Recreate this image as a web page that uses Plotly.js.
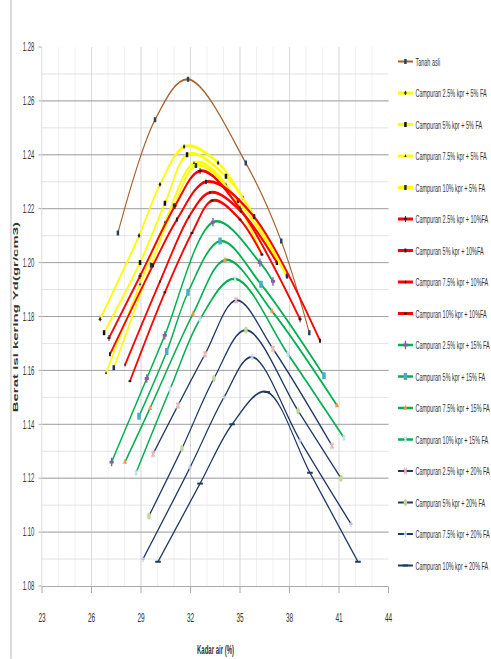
<!DOCTYPE html>
<html>
<head>
<meta charset="utf-8">
<script src="https://cdn.plot.ly/plotly-3.0.1.min.js"></script>
<style>
html,body{margin:0;padding:0;background:#fff;overflow:hidden;}
#chart{width:982px;height:659px;transform:scaleX(0.5);transform-origin:0 0;}
</style>
</head>
<body>
<div id="chart"></div>
<script>
// ---- data (Kadar air %, Berat isi kering gr/cm3) ----
const seriesNames = [
  "Tanah asli",
  "Campuran 2.5% kpr + 5% FA",
  "Campuran 5% kpr + 5% FA",
  "Campuran 7.5% kpr + 5% FA",
  "Campuran 10% kpr + 5% FA",
  "Campuran 2.5% kpr + 10%FA",
  "Campuran 5% kpr + 10%FA",
  "Campuran 7.5% kpr + 10%FA",
  "Campuran 10% kpr + 10%FA",
  "Campuran 2.5% kpr + 15% FA",
  "Campuran 5% kpr + 15% FA",
  "Campuran 7.5% kpr + 15% FA",
  "Campuran 10% kpr + 15% FA",
  "Campuran 2.5% kpr + 20% FA",
  "Campuran 5% kpr + 20% FA",
  "Campuran 7.5% kpr + 20% FA",
  "Campuran 10% kpr + 20% FA"
];

const x_tanah = [27.6, 29.85, 31.85, 35.35, 37.5, 39.2];
const y_tanah = [1.211, 1.253, 1.268, 1.237, 1.208, 1.174];

const x_k25_fa5 = [26.52, 28.88, 30.15, 31.61, 33.67, 35.18, 37.85];
const y_k25_fa5 = [1.179, 1.210, 1.229, 1.243, 1.237, 1.224, 1.195];
const x_k5_fa5 = [26.76, 28.94, 30.45, 31.79, 34.15, 35.85, 37.24];
const y_k5_fa5 = [1.174, 1.200, 1.222, 1.240, 1.232, 1.217, 1.200];
const x_k75_fa5 = [26.88, 28.94, 30.45, 32.21, 34.15, 36.33];
const y_k75_fa5 = [1.159, 1.192, 1.215, 1.237, 1.229, 1.203];
const x_k10_fa5 = [27.35, 29.61, 31.0, 32.33, 34.88, 37.85];
const y_k10_fa5 = [1.161, 1.199, 1.221, 1.236, 1.223, 1.195];

const x_k25_fa10 = [27.06, 28.94, 31.06, 32.58, 35.0, 38.64];
const y_k25_fa10 = [1.172, 1.195, 1.221, 1.234, 1.220, 1.179];
const x_k5_fa10 = [27.12, 29.73, 31.18, 32.94, 35.85, 39.85];
const y_k5_fa10 = [1.166, 1.199, 1.216, 1.230, 1.217, 1.171];
const x_k75_fa10 = [28.03, 30.15, 31.91, 33.18, 35.06, 37.24];
const y_k75_fa10 = [1.162, 1.193, 1.217, 1.226, 1.219, 1.200];
const x_k10_fa10 = [28.33, 30.45, 32.09, 33.30, 35.0, 36.33];
const y_k10_fa10 = [1.156, 1.189, 1.211, 1.223, 1.216, 1.203];

const x_k25_fa15 = [27.22, 29.35, 30.44, 33.36, 36.21, 37.0];
const y_k25_fa15 = [1.126, 1.157, 1.173, 1.215, 1.200, 1.193];
const x_k5_fa15 = [28.88, 30.56, 31.85, 33.79, 36.27, 40.09];
const y_k5_fa15 = [1.143, 1.167, 1.189, 1.208, 1.192, 1.158];
const x_k75_fa15 = [28.03, 29.55, 32.15, 34.09, 36.94, 40.88];
const y_k75_fa15 = [1.126, 1.146, 1.181, 1.201, 1.182, 1.147];
const x_k10_fa15 = [28.70, 30.76, 32.58, 34.70, 37.91, 41.30];
const y_k10_fa15 = [1.122, 1.153, 1.179, 1.194, 1.166, 1.135];

const x_k25_fa20 = [29.73, 31.24, 32.88, 34.76, 37.0, 40.58];
const y_k25_fa20 = [1.129, 1.147, 1.166, 1.186, 1.168, 1.132];
const x_k5_fa20 = [29.48, 31.48, 33.42, 35.36, 38.52, 41.12];
const y_k5_fa20 = [1.106, 1.131, 1.157, 1.175, 1.145, 1.120];
const x_k75_fa20 = [29.12, 31.97, 34.03, 35.73, 38.64, 41.73];
const y_k75_fa20 = [1.090, 1.124, 1.150, 1.165, 1.134, 1.103];
const x_k10_fa20 = [30.03, 32.58, 34.52, 36.64, 39.24, 42.15];
const y_k10_fa20 = [1.089, 1.118, 1.140, 1.152, 1.122, 1.089];

const xTickVals = [23, 26, 29, 32, 35, 38, 41, 44];
const yTickVals = [1.08, 1.10, 1.12, 1.14, 1.16, 1.18, 1.20, 1.22, 1.24, 1.26, 1.28];

const xsAll = [x_tanah, x_k25_fa5, x_k5_fa5, x_k75_fa5, x_k10_fa5, x_k25_fa10, x_k5_fa10, x_k75_fa10, x_k10_fa10,
  x_k25_fa15, x_k5_fa15, x_k75_fa15, x_k10_fa15, x_k25_fa20, x_k5_fa20, x_k75_fa20, x_k10_fa20];
const ysAll = [y_tanah, y_k25_fa5, y_k5_fa5, y_k75_fa5, y_k10_fa5, y_k25_fa10, y_k5_fa10, y_k75_fa10, y_k10_fa10,
  y_k25_fa15, y_k5_fa15, y_k75_fa15, y_k10_fa15, y_k25_fa20, y_k5_fa20, y_k75_fa20, y_k10_fa20];

// ---- styles ----
const BROWN = '#A8622C', YEL = '#FFFF00', RED = '#FF0000', GRN = '#00B050', NAVY = '#203864';
const styles = [
  {c: BROWN, w: 2,   m: {symbol: 'square', size: 5, color: '#24485a'}},
  {c: YEL,   w: 3,   m: {symbol: 'diamond', size: 4, color: '#222'}},
  {c: YEL,   w: 3,   m: {symbol: 'square', size: 5, color: '#111'}},
  {c: YEL,   w: 3,   m: {symbol: 'triangle-up', size: 4, color: '#333'}},
  {c: YEL,   w: 3,   m: {symbol: 'square', size: 5, color: '#1F2F4F'}},
  {c: RED,   w: 3,   m: {symbol: 'cross', size: 5, color: '#3a1a1a'}},
  {c: RED,   w: 3,   m: {symbol: 'square', size: 4, color: '#222'}},
  {c: RED,   w: 3,   m: {symbol: 'circle', size: 3, color: '#222'}},
  {c: RED,   w: 3,   m: {symbol: 'line-ew-open', size: 4, color: '#222'}},
  {c: GRN,   w: 2.5, m: {symbol: 'cross', size: 7, color: '#8064A2'}},
  {c: GRN,   w: 2.5, m: {symbol: 'square', size: 7, color: '#4BACC6'}},
  {c: GRN,   w: 2.5, m: {symbol: 'triangle-up', size: 7, color: '#F79646'}},
  {c: GRN,   w: 2.5, m: {symbol: 'x', size: 6, color: '#C5E0F0'}},
  {c: NAVY,  w: 2,   m: {symbol: 'x', size: 7, color: '#E6B9B8'}},
  {c: NAVY,  w: 2,   m: {symbol: 'circle', size: 7, color: '#C3D69B'}},
  {c: NAVY,  w: 2,   m: {symbol: 'cross', size: 5, color: '#B4C7E7'}},
  {c: NAVY,  w: 2,   m: {symbol: 'line-ew-open', size: 8, color: NAVY}}
];

const traces = seriesNames.map((name, i) => {
  const st = styles[i];
  const mk = Object.assign({}, st.m);
  if (mk.symbol.indexOf('open') >= 0) mk.line = {color: mk.color, width: 2};
  return {
    type: 'scatter', mode: 'lines+markers', name: name,
    x: xsAll[i], y: ysAll[i],
    legendgroup: 'g' + i,
    line: {color: st.c, width: st.w, shape: 'spline', smoothing: 1},
    marker: mk
  };
});

const FONT = 'Liberation Sans, Arial, sans-serif';
const layout = {
  width: 982, height: 659,
  margin: {l: 84, r: 205, t: 47, b: 73, autoexpand: false},
  paper_bgcolor: '#fff', plot_bgcolor: '#fff',
  font: {family: FONT, color: '#333'},
  showlegend: true,
  legend: {x: 1.02, xanchor: 'left', y: 1, yanchor: 'top', traceorder: 'grouped',
           tracegroupgap: 12.5, font: {size: 11, family: FONT, color: '#333'}, bgcolor: 'rgba(0,0,0,0)'},
  xaxis: {
    range: [23, 44], tickmode: 'array', tickvals: xTickVals, ticktext: xTickVals.map(String),
    showgrid: true, gridcolor: '#D4D4D4', gridwidth: 1,
    minor: {dtick: 1, tick0: 23, showgrid: true, gridcolor: '#ECECEC', gridwidth: 1, ticklen: 0},
    showline: true, linecolor: '#8C8C8C', linewidth: 1,
    ticks: 'outside', ticklen: 6, tickcolor: '#8C8C8C', ticklabelstandoff: 13,
    tickfont: {size: 13, family: FONT, color: '#333'}, zeroline: false
  },
  yaxis: {
    range: [1.08, 1.28], tickmode: 'array', tickvals: yTickVals, ticktext: yTickVals.map(v => v.toFixed(2)),
    showgrid: true, gridcolor: '#8C8C8C', gridwidth: 1,
    minor: {dtick: 0.01, tick0: 1.08, showgrid: true, gridcolor: '#D9D9D9', gridwidth: 1, ticklen: 0},
    showline: true, linecolor: '#D0D0D0', linewidth: 1,
    ticks: 'outside', ticklen: 6, tickcolor: '#8C8C8C', ticklabelstandoff: 6,
    tickfont: {size: 12, family: FONT, color: '#333'}, zeroline: false
  },
  annotations: [
    {text: '<b>Kadar air (%)</b>', xref: 'paper', yref: 'paper', x: 0.5, y: -0.1187,
     xanchor: 'center', yanchor: 'middle', showarrow: false, font: {size: 12, family: FONT, color: '#333'}},
    {text: '<b>Berat isi kering Yd(gr/cm3)</b>', xref: 'paper', yref: 'paper', x: -0.078, y: 0.5,
     xanchor: 'center', yanchor: 'middle', textangle: -90, showarrow: false, font: {size: 15, family: FONT, color: '#333'}}
  ],
  shapes: [
    {type: 'line', xref: 'paper', yref: 'paper', x0: -0.0895, x1: -0.0895, y0: -0.135, y1: 1.087,
     line: {color: '#A0A0A0', width: 1}}
  ]
};

Plotly.newPlot('chart', traces, layout, {displayModeBar: false, staticPlot: true});
</script>
</body>
</html>
